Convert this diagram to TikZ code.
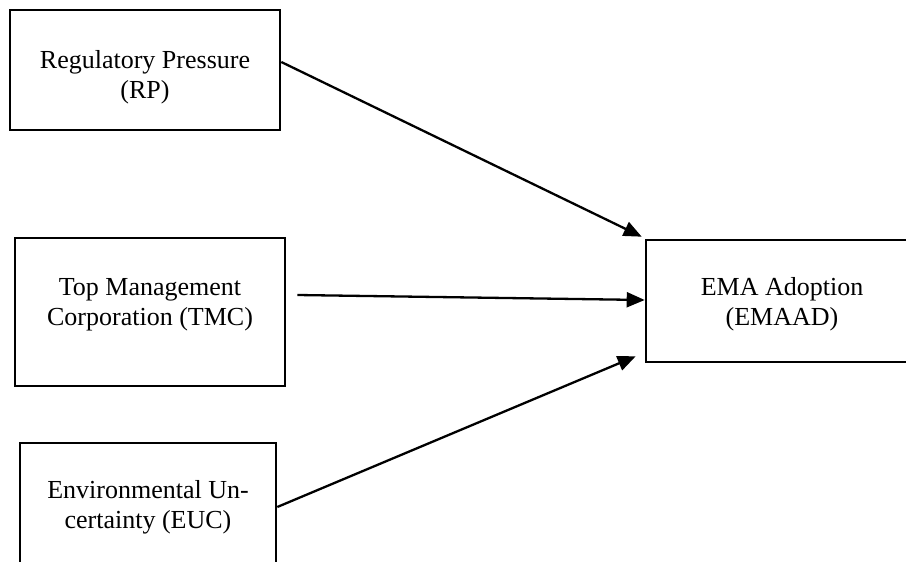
\documentclass[tikz,border=0pt]{standalone}
\usepackage{fontspec}
\setmainfont{Liberation Serif}
\usetikzlibrary{arrows.meta}
\begin{document}
\begin{tikzpicture}[x=1pt,y=-1pt,
  box/.style={draw=black,line width=2.6pt,inner sep=0pt,fill=none},
  lbl/.style={align=center,font=\fontsize{26}{30}\selectfont,inner sep=0pt},
  conn/.style={line width=2.3pt,-{Triangle[length=18pt,width=15pt]}}]
\useasboundingbox (0,0) rectangle (906,562);
\node[box,minimum width=270pt,minimum height=120pt] (rp) at (145,70) {};
\node[box,minimum width=270pt,minimum height=148pt] (tmc) at (150,312) {};
\node[box,minimum width=256pt,minimum height=128pt] (euc) at (148,507) {};
\node[box,minimum width=272pt,minimum height=122pt] (ema) at (782,301) {};
\node[lbl] (rpt) at ([yshift=-7pt]rp.center) {Regulatory Pressure\\(RP)};
\node[lbl] (tmct) at ([yshift=7pt]tmc.center) {Top Management\\Corporation (TMC)};
\node[lbl] (euct) at (euc.center) {Environmental Un-\\certainty (EUC)};
\node[lbl] (emat) at ([yshift=-3pt]ema.center) {EMA Adoption\\(EMAAD)};
\draw[conn] ([yshift=8pt]rp.east) -- ([xshift=-3pt,yshift=2pt]ema.north west);
\draw[conn] ([xshift=11pt,yshift=17pt]tmc.east) -- ([yshift=1pt]ema.west);
\draw[conn] (euc.east) -- ([xshift=-9pt,yshift=7pt]ema.south west);
\end{tikzpicture}
\end{document}
